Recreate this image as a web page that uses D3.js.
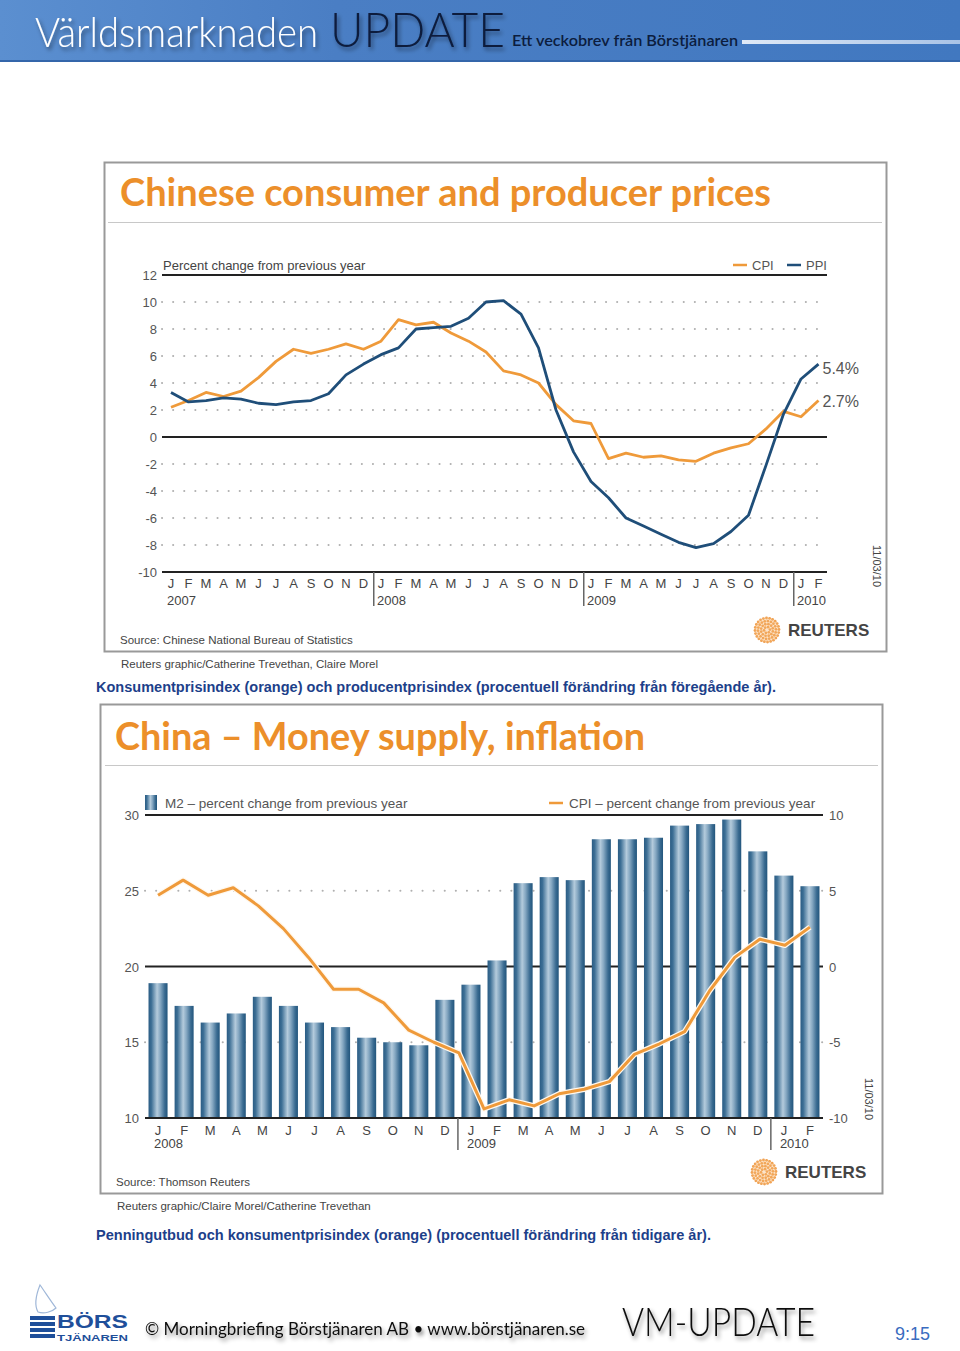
<!DOCTYPE html>
<html><head><meta charset="utf-8">
<script src="https://cdn.jsdelivr.net/npm/d3@7"></script>
<style>body{margin:0;background:#fff}svg{display:block}</style>
</head><body>
<script>
// ---------- DATA ----------
const monthLetters = ["J","F","M","A","M","J","J","A","S","O","N","D"];
// Chart 1: Jan 2007 – Feb 2010
const months1 = [...monthLetters, ...monthLetters, ...monthLetters, "J", "F"];
const years1 = [{i:0,label:"2007"},{i:12,label:"2008"},{i:24,label:"2009"},{i:36,label:"2010"}];
const cpi1 = [2.2,2.7,3.3,3.0,3.4,4.4,5.6,6.5,6.2,6.5,6.9,6.5,
              7.1,8.7,8.3,8.5,7.7,7.1,6.3,4.9,4.6,4.0,2.4,1.2,
              1.0,-1.6,-1.2,-1.5,-1.4,-1.7,-1.8,-1.2,-0.8,-0.5,0.6,1.9,
              1.5,2.7];
const ppi1 = [3.3,2.6,2.7,2.9,2.8,2.5,2.4,2.6,2.7,3.2,4.6,5.4,
              6.1,6.6,8.0,8.1,8.2,8.8,10.0,10.1,9.1,6.6,2.0,-1.1,
              -3.3,-4.5,-6.0,-6.6,-7.2,-7.8,-8.2,-7.9,-7.0,-5.8,-2.1,1.7,
              4.3,5.4];
const ticks1 = [-10,-8,-6,-4,-2,0,2,4,6,8,10,12];
const solid1 = [-10,0,12];
const endLabels1 = [{series:"PPI",text:"5.4%"},{series:"CPI",text:"2.7%"}];

// Chart 2: Jan 2008 – Feb 2010
const months2 = [...monthLetters, ...monthLetters, "J", "F"];
const years2 = [{i:0,label:"2008"},{i:12,label:"2009"},{i:24,label:"2010"}];
const m2 = [18.9,17.4,16.3,16.9,18.0,17.4,16.3,16.0,15.3,15.0,14.8,17.8,
            18.8,20.4,25.5,25.9,25.7,28.4,28.4,28.5,29.3,29.4,29.7,27.6,
            26.0,25.3];
const cpi2 = [4.7,5.7,4.7,5.2,4.0,2.5,0.6,-1.5,-1.5,-2.4,-4.2,-5.0,-5.7,
              -9.4,-8.8,-9.2,-8.4,-8.1,-7.6,-5.8,-5.1,-4.3,-1.6,0.6,1.8,1.4,2.6];
const ticks2L = [10,15,20,25,30];
const ticks2R = [-10,-5,0,5,10];
const solid2 = [10,20,30];

// ---------- STYLE ----------
const ORANGE = "#ef9a3a", BLUE = "#1f4e79", GREY = "#555", AX = "#222";
const SANS = "'Liberation Sans', Arial, sans-serif";
const DOTS = "0.1,11";

const svg = d3.select("body").append("svg").attr("width",960).attr("height",1351);
const defs = svg.append("defs");

const hg = defs.append("linearGradient").attr("id","hdr").attr("x1","0").attr("x2","1").attr("y1","0").attr("y2","0");
hg.append("stop").attr("offset","0").attr("stop-color","#5b8fd0");
hg.append("stop").attr("offset","0.35").attr("stop-color","#4a7ec4");
hg.append("stop").attr("offset","1").attr("stop-color","#4178c0");
const lg = defs.append("linearGradient").attr("id","hline").attr("x1","0").attr("x2","1");
lg.append("stop").attr("offset","0").attr("stop-color","#dfe9f6");
lg.append("stop").attr("offset","1").attr("stop-color","#a9c3e6");
const bg = defs.append("linearGradient").attr("id","bar").attr("x1","0").attr("x2","1").attr("y1","0").attr("y2","0");
[["0","#2a5c84"],["0.15","#3d6f95"],["0.45","#b4cbdc"],["0.62","#86a8c2"],["0.85","#3a6b91"],["1","#22557c"]]
  .forEach(([o,c])=>bg.append("stop").attr("offset",o).attr("stop-color",c));
const sh = defs.append("filter").attr("id","shadow").attr("x","-10%").attr("y","-20%").attr("width","120%").attr("height","160%");
sh.append("feDropShadow").attr("dx",2).attr("dy",3).attr("stdDeviation",2).attr("flood-color","#000").attr("flood-opacity",0.45);

// ---------- HEADER ----------
svg.append("rect").attr("x",0).attr("y",0).attr("width",960).attr("height",62).attr("fill","url(#hdr)");
svg.append("rect").attr("x",0).attr("y",60).attr("width",960).attr("height",2).attr("fill","#3466aa");
svg.append("text").attr("x",35).attr("y",47).attr("font-family","Lato, 'Open Sans', sans-serif").attr("font-weight",300)
  .attr("font-size",42).attr("fill","#fff").attr("textLength",283).attr("lengthAdjust","spacingAndGlyphs")
  .attr("filter","url(#shadow)").text("Världsmarknaden");
svg.append("text").attr("x",330).attr("y",47).attr("font-family","Lato, 'Open Sans', sans-serif").attr("font-weight",300)
  .attr("font-size",48).attr("fill","#0c1d3e").attr("textLength",175).attr("lengthAdjust","spacingAndGlyphs")
  .attr("filter","url(#shadow)").text("UPDATE");
svg.append("text").attr("x",512).attr("y",46).attr("font-family","Lato, 'Open Sans', sans-serif").attr("font-weight",600)
  .attr("font-size",15).attr("fill","#0c1d3e").attr("textLength",226).attr("lengthAdjust","spacingAndGlyphs")
  .text("Ett veckobrev från Börstjänaren");
svg.append("rect").attr("x",742).attr("y",40).attr("width",218).attr("height",4).attr("fill","url(#hline)");

// ---------- REUTERS LOGO ----------
function reutersLogo(g, cx, cy){
  const rings = [[3,6],[6,12],[9,18],[12,24]];
  rings.forEach(([r,n])=>{
    d3.range(n).forEach(k=>{
      const a = k/n*2*Math.PI + r;
      g.append("circle").attr("cx",cx+r*Math.cos(a)).attr("cy",cy+r*Math.sin(a))
        .attr("r",1.4).attr("fill","#f0a050");
    });
  });
  g.append("circle").attr("cx",cx).attr("cy",cy).attr("r",12.5).attr("fill","#f6b56d").attr("opacity",0.35);
  g.append("text").attr("x",cx+21).attr("y",cy+6).attr("font-family",SANS).attr("font-weight","bold")
    .attr("font-size",17).attr("fill","#444").text("REUTERS");
}

// ---------- CHART 1 ----------
const c1 = svg.append("g");
c1.append("rect").attr("x",104.5).attr("y",162.5).attr("width",782).attr("height",489)
  .attr("fill","none").attr("stroke","#999").attr("stroke-width",2);
c1.append("text").attr("x",120).attr("y",206).attr("font-family","Lato, 'Open Sans', sans-serif").attr("font-weight","bold")
  .attr("font-size",39).attr("fill","#ec8f2a").attr("textLength",651).attr("lengthAdjust","spacingAndGlyphs")
  .text("Chinese consumer and producer prices");
c1.append("line").attr("x1",108).attr("x2",882).attr("y1",222.5).attr("y2",222.5).attr("stroke","#c8c8c8");

const x1 = d3.scaleLinear().domain([0, months1.length-1]).range([171, 818.5]);
const y1 = d3.scaleLinear().domain([-10,12]).range([572,275]);
const X1L = 162, X1R = 827;

c1.selectAll(".g1").data(ticks1).join("line")
  .attr("x1",X1L).attr("x2",X1R).attr("y1",d=>y1(d)).attr("y2",d=>y1(d))
  .attr("stroke",d=>solid1.includes(d)?AX:"#b0b0b0")
  .attr("stroke-width",2)
  .attr("stroke-dasharray",d=>solid1.includes(d)?null:DOTS)
  .attr("stroke-linecap",d=>solid1.includes(d)?"butt":"round");
c1.selectAll(".yl1").data(ticks1).join("text")
  .attr("x",157).attr("y",d=>y1(d)+5).attr("text-anchor","end")
  .attr("font-family",SANS).attr("font-size",13).attr("fill",GREY).text(d=>d);
c1.append("text").attr("x",163).attr("y",270).attr("font-family",SANS).attr("font-size",13).attr("fill","#444")
  .text("Percent change from previous year");
[{n:"CPI",c:ORANGE,x:733},{n:"PPI",c:BLUE,x:787}].forEach(l=>{
  c1.append("line").attr("x1",l.x).attr("x2",l.x+14).attr("y1",265).attr("y2",265).attr("stroke",l.c).attr("stroke-width",2.5);
  c1.append("text").attr("x",l.x+19).attr("y",270).attr("font-family",SANS).attr("font-size",13).attr("fill",GREY).text(l.n);
});
c1.selectAll(".m1").data(months1).join("text")
  .attr("x",(d,i)=>x1(i)).attr("y",588).attr("text-anchor","middle")
  .attr("font-family",SANS).attr("font-size",13).attr("fill","#444").text(d=>d);
c1.selectAll(".yr1").data(years1).join("text")
  .attr("x",d=>x1(d.i)-4).attr("y",605).attr("font-family",SANS).attr("font-size",13).attr("fill","#444").text(d=>d.label);
c1.selectAll(".ys1").data(years1.filter(d=>d.i>0)).join("line")
  .attr("x1",d=>(x1(d.i-1)+x1(d.i))/2+1.5).attr("x2",d=>(x1(d.i-1)+x1(d.i))/2+1.5)
  .attr("y1",572).attr("y2",606).attr("stroke","#666").attr("stroke-width",1.5);
const line1 = d3.line().x((d,i)=>x1(i)).y(d=>y1(d));
c1.append("path").datum(cpi1).attr("d",line1).attr("fill","none").attr("stroke",ORANGE).attr("stroke-width",2.8).attr("stroke-linejoin","round");
c1.append("path").datum(ppi1).attr("d",line1).attr("fill","none").attr("stroke",BLUE).attr("stroke-width",2.8).attr("stroke-linejoin","round");
const lastIdx = months1.length-1;
endLabels1.forEach(l=>{
  const v = l.series==="PPI" ? ppi1[lastIdx] : cpi1[lastIdx];
  c1.append("text").attr("x",x1(lastIdx)+4).attr("y",y1(v)+(l.series==="PPI"?10:6))
    .attr("font-family",SANS).attr("font-size",16).attr("fill",GREY).text(l.text);
});
c1.append("text").attr("transform","translate(873,545) rotate(90)").attr("font-family",SANS).attr("font-size",11)
  .attr("fill","#444").text("11/03/10");
c1.append("text").attr("x",120).attr("y",644).attr("font-family",SANS).attr("font-size",11.5).attr("fill","#444")
  .text("Source: Chinese National Bureau of Statistics");
reutersLogo(c1.append("g"), 767, 630);
c1.append("text").attr("x",121).attr("y",668).attr("font-family",SANS).attr("font-size",11.5).attr("fill","#444")
  .text("Reuters graphic/Catherine Trevethan, Claire Morel");
svg.append("text").attr("x",96).attr("y",692).attr("font-family",SANS).attr("font-weight","bold").attr("font-size",14)
  .attr("fill","#1d3f8a").attr("textLength",680).attr("lengthAdjust","spacingAndGlyphs")
  .text("Konsumentprisindex (orange) och producentprisindex (procentuell förändring från föregående år).");

// ---------- CHART 2 ----------
const c2 = svg.append("g");
c2.append("rect").attr("x",100.5).attr("y",704.5).attr("width",782).attr("height",489)
  .attr("fill","none").attr("stroke","#999").attr("stroke-width",2);
c2.append("text").attr("x",115).attr("y",750).attr("font-family","Lato, 'Open Sans', sans-serif").attr("font-weight","bold")
  .attr("font-size",39).attr("fill","#ec8f2a").attr("textLength",530).attr("lengthAdjust","spacingAndGlyphs")
  .text("China – Money supply, inflation");
c2.append("line").attr("x1",105).attr("x2",878).attr("y1",765.5).attr("y2",765.5).attr("stroke","#c8c8c8");

const X2L = 145, X2R = 823;
const xb = d3.scaleBand().domain(d3.range(m2.length)).range([X2L,X2R]).paddingInner(0.27).paddingOuter(0.135);
const yL = d3.scaleLinear().domain([10,30]).range([1118,815]);
const yR = d3.scaleLinear().domain([-10,10]).range([1118,815]);
const xl = d3.scalePoint().domain(d3.range(cpi2.length))
  .range([xb(0)+xb.bandwidth()/2, xb(m2.length-1)+xb.bandwidth()/2]);

c2.selectAll(".g2").data(ticks2L.filter(d=>!solid2.includes(d))).join("line")
  .attr("x1",X2L).attr("x2",X2R).attr("y1",d=>yL(d)).attr("y2",d=>yL(d))
  .attr("stroke","#b0b0b0").attr("stroke-width",2).attr("stroke-dasharray",DOTS).attr("stroke-linecap","round");
c2.selectAll(".s2").data(solid2).join("line")
  .attr("x1",X2L).attr("x2",X2R).attr("y1",d=>yL(d)).attr("y2",d=>yL(d))
  .attr("stroke",AX).attr("stroke-width",2);
c2.selectAll(".bar").data(m2).join("rect")
  .attr("x",(d,i)=>xb(i)).attr("width",xb.bandwidth())
  .attr("y",d=>yL(d)).attr("height",d=>yL(10)-yL(d)).attr("fill","url(#bar)");
c2.append("line").attr("x1",X2L).attr("x2",X2R).attr("y1",yL(10)).attr("y2",yL(10)).attr("stroke",AX).attr("stroke-width",2);
const line2 = d3.line().x((d,i)=>xl(i)).y(d=>yR(d));
c2.append("path").datum(cpi2).attr("d",line2).attr("fill","none").attr("stroke","#fff8ee").attr("stroke-width",5.5).attr("stroke-linejoin","round");
c2.append("path").datum(cpi2).attr("d",line2).attr("fill","none").attr("stroke",ORANGE).attr("stroke-width",3).attr("stroke-linejoin","round");

c2.selectAll(".yl2").data(ticks2L).join("text")
  .attr("x",139).attr("y",d=>yL(d)+5).attr("text-anchor","end")
  .attr("font-family",SANS).attr("font-size",13).attr("fill",GREY).text(d=>d);
c2.selectAll(".yr2").data(ticks2R).join("text")
  .attr("x",829).attr("y",d=>yR(d)+5)
  .attr("font-family",SANS).attr("font-size",13).attr("fill",GREY).text(d=>d);
c2.append("rect").attr("x",145).attr("y",795).attr("width",12).attr("height",15).attr("fill","url(#bar)");
c2.append("text").attr("x",165).attr("y",808).attr("font-family",SANS).attr("font-size",13.5).attr("fill",GREY)
  .text("M2 – percent change from previous year");
c2.append("line").attr("x1",549).attr("x2",563).attr("y1",803).attr("y2",803).attr("stroke",ORANGE).attr("stroke-width",2.5);
c2.append("text").attr("x",569).attr("y",808).attr("font-family",SANS).attr("font-size",13.5).attr("fill",GREY)
  .text("CPI – percent change from previous year");
c2.selectAll(".m2").data(months2).join("text")
  .attr("x",(d,i)=>xb(i)+xb.bandwidth()/2).attr("y",1135).attr("text-anchor","middle")
  .attr("font-family",SANS).attr("font-size",13).attr("fill","#444").text(d=>d);
c2.selectAll(".yr2l").data(years2).join("text")
  .attr("x",d=>xb(d.i)+xb.bandwidth()/2-4).attr("y",1148).attr("font-family",SANS).attr("font-size",13).attr("fill","#444").text(d=>d.label);
c2.selectAll(".ys2").data(years2.filter(d=>d.i>0)).join("line")
  .attr("x1",d=>xb(d.i)-xb.step()*0.135).attr("x2",d=>xb(d.i)-xb.step()*0.135)
  .attr("y1",1118).attr("y2",1150).attr("stroke","#666").attr("stroke-width",1.5);
c2.append("text").attr("transform","translate(865,1078) rotate(90)").attr("font-family",SANS).attr("font-size",11)
  .attr("fill","#444").text("11/03/10");
c2.append("text").attr("x",116).attr("y",1186).attr("font-family",SANS).attr("font-size",11.5).attr("fill","#444")
  .text("Source: Thomson Reuters");
reutersLogo(c2.append("g"), 764, 1172);
c2.append("text").attr("x",117).attr("y",1210).attr("font-family",SANS).attr("font-size",11.5).attr("fill","#444")
  .text("Reuters graphic/Claire Morel/Catherine Trevethan");
svg.append("text").attr("x",96).attr("y",1240).attr("font-family",SANS).attr("font-weight","bold").attr("font-size",14)
  .attr("fill","#1d3f8a").attr("textLength",615).attr("lengthAdjust","spacingAndGlyphs")
  .text("Penningutbud och konsumentprisindex (orange) (procentuell förändring från tidigare år).");

// ---------- FOOTER ----------
const f = svg.append("g");
f.append("path").attr("d","M40,1285 C36,1295 34,1305 38,1312 C44,1314 52,1312 56,1308 C50,1300 45,1292 40,1285 Z")
  .attr("fill","none").attr("stroke","#9fb7d8").attr("stroke-width",1.2);
[1316,1322,1328,1334].forEach(yy=>f.append("rect").attr("x",30).attr("y",yy).attr("width",25).attr("height",4).attr("fill","#1f4f9a"));
f.append("text").attr("x",57).attr("y",1328).attr("font-family",SANS).attr("font-weight","bold").attr("font-size",19)
  .attr("fill","#1f4f9a").attr("textLength",71).attr("lengthAdjust","spacingAndGlyphs").text("BÖRS");
f.append("text").attr("x",57).attr("y",1341).attr("font-family",SANS).attr("font-weight","bold").attr("font-size",9)
  .attr("fill","#1f4f9a").attr("textLength",71).attr("lengthAdjust","spacingAndGlyphs").text("TJÄNAREN");
f.append("text").attr("x",145).attr("y",1335).attr("font-family","Lato, 'Open Sans', sans-serif").attr("font-size",18)
  .attr("fill","#111").attr("textLength",440).attr("lengthAdjust","spacingAndGlyphs")
  .attr("filter","url(#shadow)").text("© Morningbriefing Börstjänaren AB • www.börstjänaren.se");
f.append("text").attr("x",622).attr("y",1336).attr("font-family","Lato, 'Open Sans', sans-serif").attr("font-weight",300)
  .attr("font-size",39).attr("fill","#111").attr("textLength",193).attr("lengthAdjust","spacingAndGlyphs")
  .attr("filter","url(#shadow)").text("VM-UPDATE");
f.append("text").attr("x",895).attr("y",1340).attr("font-family",SANS).attr("font-size",18)
  .attr("fill","#3a6cc0").text("9:15");
</script>
</body></html>
